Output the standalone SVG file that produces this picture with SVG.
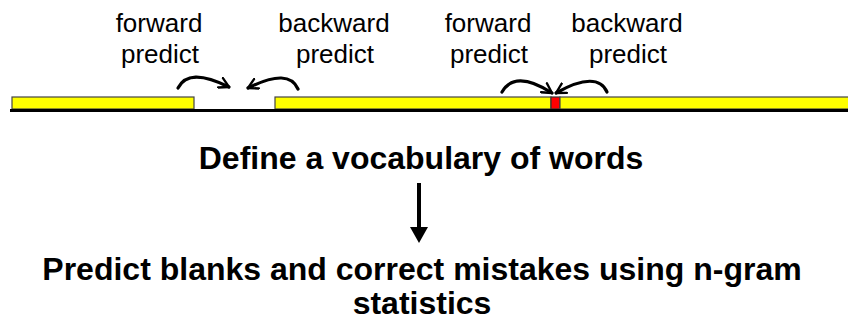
<svg xmlns="http://www.w3.org/2000/svg" width="848" height="320" viewBox="0 0 848 320">
<style>
.lbl{font-family:"Liberation Sans",Arial,sans-serif;font-size:26px;fill:#000;text-anchor:middle}
.big{font-family:"Liberation Sans",Arial,sans-serif;font-size:32px;font-weight:bold;fill:#000;text-anchor:middle}
.seg{fill:#ffff00;stroke:#444;stroke-width:1.2}
.bad{fill:#ff0000;stroke:#333;stroke-width:1.2}
.curve{fill:none;stroke:#000;stroke-width:3.2;stroke-linecap:round}
</style>
<defs>
<marker id="vhead" viewBox="0 0 12 12" refX="10" refY="6" markerWidth="4" markerHeight="4" orient="auto" markerUnits="strokeWidth">
<path d="M1,1 L10,6 L1,11" fill="none" stroke="#000" stroke-width="2.2" stroke-linecap="round" stroke-linejoin="round"/>
</marker>
</defs>
<rect width="848" height="320" fill="#fff"/>
<g id="sequence">
<rect class="seg" x="12" y="97" width="182" height="12"/>
<rect class="seg" x="275" y="97" width="276" height="12"/>
<rect class="bad" x="551" y="97" width="9" height="12"/>
<rect class="seg" x="560" y="97" width="292" height="12"/>
<line x1="10" y1="110.5" x2="848" y2="110.5" stroke="#000" stroke-width="3"/>
</g>
<g id="label-fwd1"><text class="lbl" x="159" y="32">forward</text><text class="lbl" x="160" y="63">predict</text></g>
<g id="label-bwd1"><text class="lbl" x="334" y="32">backward</text><text class="lbl" x="335" y="63">predict</text></g>
<g id="label-fwd2"><text class="lbl" x="488" y="32">forward</text><text class="lbl" x="489" y="63">predict</text></g>
<g id="label-bwd2"><text class="lbl" x="627" y="32">backward</text><text class="lbl" x="628" y="63">predict</text></g>
<g id="step1"><text class="big" x="421" y="169">Define a vocabulary of words</text></g>
<g id="step2"><text class="big" x="422" y="280">Predict blanks and correct mistakes using n-gram</text><text class="big" x="422" y="314">statistics</text></g>
<g id="connectors">
<path class="curve" d="M178,88 C185,74 201,73 229,87" marker-end="url(#vhead)"/>
<path class="curve" d="M298,89 C292,75 276,74 248,88" marker-end="url(#vhead)"/>
<path class="curve" d="M502,92 C510,78 526,76 552,93" marker-end="url(#vhead)"/>
<path class="curve" d="M607,92 C601,78 584,77 556,93" marker-end="url(#vhead)"/>
<line x1="419" y1="183" x2="419" y2="229" stroke="#000" stroke-width="4"/>
<polygon points="410,227 428,227 419,243" fill="#000"/>
</g>
</svg>
